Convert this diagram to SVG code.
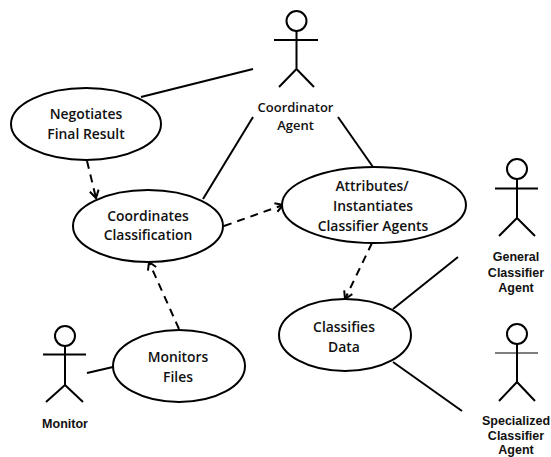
<svg xmlns="http://www.w3.org/2000/svg" width="551" height="457" viewBox="0 0 551 457">
<defs>
<style>
.uc{fill:#fff;stroke:#000;stroke-width:2}
.lb{font-family:"Open Sans","Liberation Sans",sans-serif;font-weight:600;font-size:13.9px;fill:#111;text-anchor:middle}
.lc{font-family:"Open Sans","Liberation Sans",sans-serif;font-weight:600;font-size:13px;fill:#111;text-anchor:middle}
.al{font-family:"Liberation Sans",Arial,sans-serif;font-weight:700;font-size:12.5px;fill:#111;text-anchor:middle}
.a{fill:none;stroke:#000;stroke-width:2}
.thin{fill:none;stroke:#000;stroke-width:1.2}
.c{fill:none;stroke:#000;stroke-width:2}
.d{fill:none;stroke:#000;stroke-width:2;stroke-dasharray:8 6;marker-end:url(#open)}
</style>
<marker id="open" viewBox="0 0 12 12" refX="10.5" refY="6" markerWidth="12" markerHeight="12" markerUnits="userSpaceOnUse" orient="auto">
<path d="M3 1.5L10.5 6L3 10.5" fill="none" stroke="#000" stroke-width="2"/>
</marker>
</defs>
<rect width="551" height="457" fill="#fff"/>
<g id="connectors">
<path class="c" d="M141 97L253 69"/>
<path class="c" d="M203 199L253 117"/>
<path class="c" d="M338 117L373 167"/>
<path class="c" d="M87 373L113 367"/>
<path class="c" d="M393 309L458 257"/>
<path class="c" d="M393 362L462 411"/>
<path class="d" d="M87 161L96 198"/>
<path class="d" d="M224 226L283 205"/>
<path class="d" d="M179 329L149 262"/>
<path class="d" d="M372 243L345 299"/>
</g>
<g id="negotiates">
<ellipse class="uc" cx="86" cy="124" rx="75" ry="36"/>
<text class="lb" x="86" y="119">Negotiates</text>
<text class="lb" x="86" y="139">Final Result</text>
</g>
<g id="coordinates">
<ellipse class="uc" cx="148" cy="226" rx="75" ry="36"/>
<text class="lb" x="148" y="221">Coordinates</text>
<text class="lb" x="148" y="240">Classification</text>
</g>
<g id="attributes">
<ellipse class="uc" cx="374" cy="205" rx="92" ry="38"/>
<text class="lb" x="372" y="191">Attributes/</text>
<text class="lb" x="373" y="211">Instantiates</text>
<text class="lb" x="373" y="231">Classifier Agents</text>
</g>
<g id="classifies">
<ellipse class="uc" cx="345" cy="335" rx="66" ry="36"/>
<text class="lb" x="344" y="332">Classifies</text>
<text class="lb" x="344" y="352">Data</text>
</g>
<g id="monitors">
<ellipse class="uc" cx="179" cy="366" rx="66" ry="36"/>
<text class="lb" x="178" y="362">Monitors</text>
<text class="lb" x="178" y="382">Files</text>
</g>
<g id="coordinator-agent">
<circle class="a" cx="296.500" cy="21" r="10"/>
<path class="a" d="M296.500 31V69M274 40H318M296.500 69L279 87M296.500 69L314 87"/>
<text class="lc" x="295.500" y="112">Coordinator</text>
<text class="lc" x="295.500" y="130">Agent</text>
</g>
<g id="general-classifier-agent">
<circle class="a" cx="517" cy="169" r="10"/>
<path class="a" d="M517 179V218M495 188.500H538M517 218L499 236M517 218L535 236"/>
<text class="al" x="516" y="261">General</text>
<text class="al" x="516" y="277">Classifier</text>
<text class="al" x="516" y="292">Agent</text>
</g>
<g id="specialized-classifier-agent">
<circle class="a" cx="517" cy="334" r="10"/>
<path class="a" d="M517 344V382M517 382L499 401M517 382L535 401"/>
<path class="thin" d="M495 353H538"/>
<text class="al" x="516" y="424.500">Specialized</text>
<text class="al" x="516" y="439.500">Classifier</text>
<text class="al" x="516" y="454">Agent</text>
</g>
<g id="monitor">
<circle class="a" cx="65" cy="336" r="10"/>
<path class="a" d="M65 346V385M43 354.500H86M65 385L46 402M65 385L83 402"/>
<text class="al" x="65" y="428">Monitor</text>
</g>
</svg>
